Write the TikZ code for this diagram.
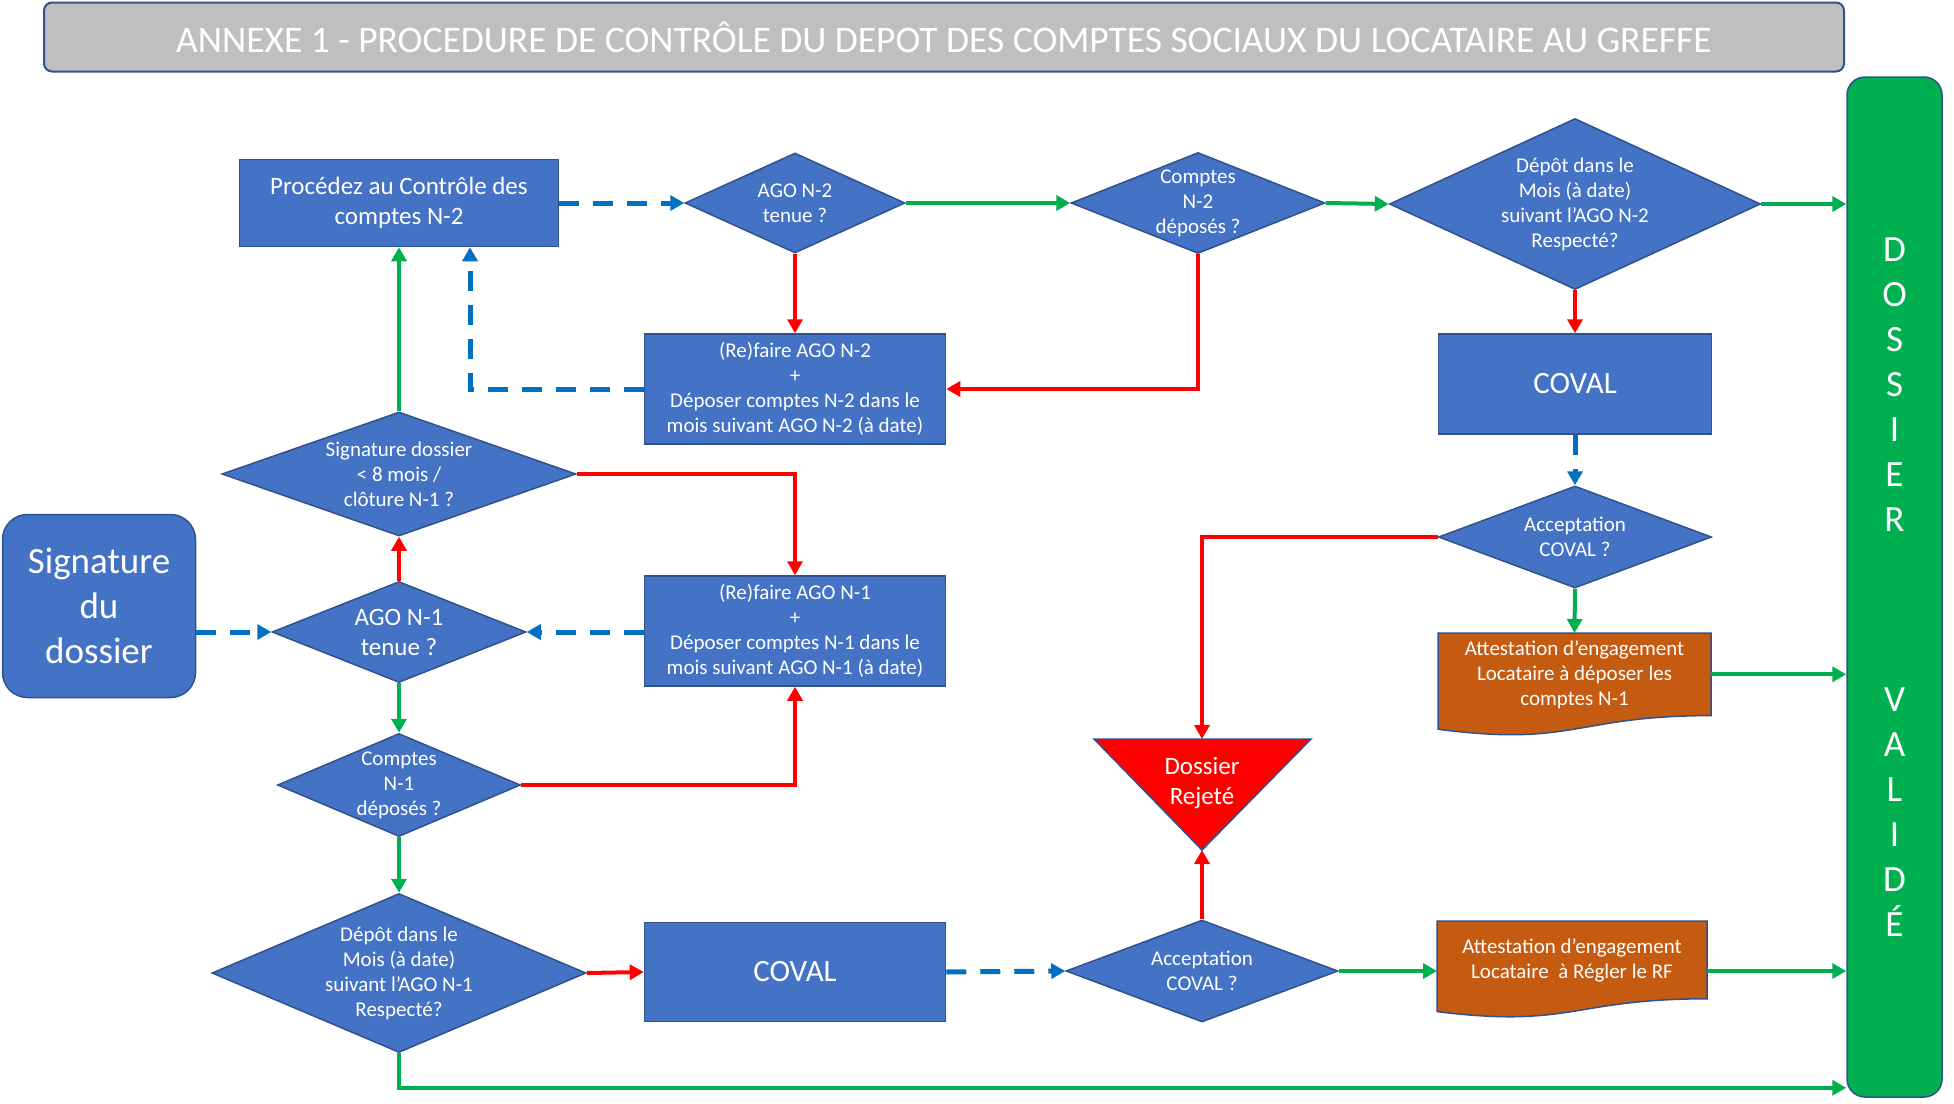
\documentclass[tikz,border=0pt]{standalone}
\usepackage{fontspec}
\setmainfont{Carlito}
\usetikzlibrary{calc,shapes.geometric,arrows,arrows.meta,backgrounds}

\definecolor{boxblue}{HTML}{4472C4}
\definecolor{edgeblue}{HTML}{2F528F}
\definecolor{okgreen}{HTML}{00B050}
\definecolor{kored}{HTML}{FF0000}
\definecolor{loopblue}{HTML}{0070C0}
\definecolor{docorange}{HTML}{C55A11}
\definecolor{bargray}{HTML}{BFBFBF}

\tikzset{
  process/.style={rectangle, draw=edgeblue, fill=boxblue, line width=1.5pt, text=white, align=center, inner sep=0pt},
  decision/.style={diamond, draw=edgeblue, fill=boxblue, line width=1.5pt, text=white, align=center, inner sep=-15pt, font=\fontsize{21}{25}\selectfont},
  smalltext/.style={font=\fontsize{21}{25}\selectfont},
  greenflow/.style={-{Triangle[length=14pt,width=15pt]}, okgreen, line width=4pt},
  redflow/.style={-{Triangle[length=14pt,width=15pt]}, kored, line width=4pt},
  blueflow/.style={-{Triangle[length=14pt,width=15pt]}, loopblue, line width=5pt, dash pattern=on 20pt off 14pt},
}

\begin{document}
\begin{tikzpicture}[x=1pt,y=-1pt]
\useasboundingbox (0,0) rectangle (1954,1103);
% en-tete
\node[rectangle, rounded corners=8pt, draw=edgeblue, fill=bargray, line width=2pt, minimum width=1800pt, minimum height=69pt, text=white, font=\fontsize{37.5}{44}\selectfont] (title) at (944,37) {ANNEXE 1 - PROCEDURE DE CONTRÔLE DU DEPOT DES COMPTES SOCIAUX DU LOCATAIRE AU GREFFE};
% barre dossier valide
\node[rectangle, rounded corners=18pt, draw=edgeblue, fill=okgreen, line width=1.5pt, minimum width=95pt, minimum height=1020pt, text=white, align=center, font=\fontsize{37}{45}\selectfont] (valide) at (1894.5,587) {D\\O\\S\\S\\I\\E\\R\\[135pt]V\\A\\L\\I\\D\\É};

% colonne N-1
\node[process, rounded corners=25pt, minimum width=193pt, minimum height=183pt, font=\fontsize{37}{45}\selectfont] (start) at (99,606) {Signature\\du\\dossier};
\node[process, minimum width=319pt, minimum height=87pt, font=\fontsize{25}{30}\selectfont] (proc) at (399,203) {Procédez au Contrôle des\\comptes N-2};
\node[decision, aspect=2.85, minimum width=354pt, minimum height=124pt] (sigd) at (399,474) {Signature dossier\\< 8 mois /\\clôture N-1 ?};
\node[decision, aspect=2.51, minimum width=254pt, minimum height=101pt, font=\fontsize{25}{30}\selectfont] (ago1) at (399,632) {AGO N-1\\tenue ?};
\node[decision, aspect=2.36, minimum width=243pt, minimum height=103pt] (cpt1) at (399,785) {Comptes\\N-1\\déposés ?};
\node[decision, aspect=2.35, minimum width=374pt, minimum height=159pt] (dep1) at (399,973) {Dépôt dans le\\Mois (à date)\\suivant l’AGO N-1\\Respecté?};

% colonne du milieu
\node[decision, aspect=2.2, minimum width=220pt, minimum height=100pt] (ago2) at (795,203) {AGO N-2\\tenue ?};
\node[process, smalltext, minimum width=301pt, minimum height=110pt] (refN2) at (795,389) {(Re)faire AGO N-2\\+\\Déposer comptes N-2 dans le\\mois suivant AGO N-2 (à date)};
\node[process, smalltext, minimum width=301pt, minimum height=110pt] (refN1) at (795,631) {(Re)faire AGO N-1\\+\\Déposer comptes N-1 dans le\\mois suivant AGO N-1 (à date)};
\node[process, minimum width=301pt, minimum height=99pt, font=\fontsize{31}{37}\selectfont] (coval1) at (795,972) {COVAL};

% colonne N-2 / rejet
\node[decision, aspect=2.51, minimum width=254pt, minimum height=101pt] (cpt2) at (1198,203) {Comptes\\N-2\\déposés ?};
\node[decision, aspect=2.67, minimum width=272pt, minimum height=102pt] (acc1) at (1202,971) {Acceptation\\COVAL ?};
\coordinate (rejtop) at (1202,739);
\coordinate (rejapex) at (1202,850);
\draw[fill=kored, draw=edgeblue, line width=1.5pt] ([xshift=-108pt]rejtop) -- ([xshift=109pt]rejtop) -- (rejapex) -- cycle;
\node[text=white, align=center, font=\fontsize{25}{30}\selectfont] (rej) at (1202,783) {Dossier\\Rejeté};

% colonne de droite
\node[decision, aspect=2.17, minimum width=371pt, minimum height=171pt] (dep2) at (1575,204) {Dépôt dans le\\Mois (à date)\\suivant l’AGO N-2\\Respecté?};
\node[process, minimum width=273pt, minimum height=100pt, font=\fontsize{31}{37}\selectfont] (coval2) at (1575,384) {COVAL};
\node[decision, aspect=2.68, minimum width=273pt, minimum height=102pt] (acc2) at (1575,537) {Acceptation\\COVAL ?};
\node[process, draw=none, fill=none, outer sep=0pt, smalltext, minimum width=273pt, minimum height=82.6pt] (att2) at (1574.5,674.3) {Attestation d’engagement\\Locataire à déposer les\\comptes N-1};
\node[process, draw=none, fill=none, outer sep=0pt, smalltext, minimum width=270pt, minimum height=77.8pt] (att1) at (1572,959.9) {Attestation d’engagement\\Locataire \ à Régler le RF};
\begin{scope}[on background layer]
\draw[fill=docorange, draw=edgeblue, line width=1.5pt] (att2.north west) -- (att2.north east) -- (att2.south east) .. controls (att2.south) and ([yshift=-31.5pt]att2.south) .. ([yshift=-13.6pt]att2.south west) -- cycle;
\draw[fill=docorange, draw=edgeblue, line width=1.5pt] (att1.north west) -- (att1.north east) -- (att1.south east) .. controls (att1.south) and ([yshift=-29.6pt]att1.south) .. ([yshift=-12.8pt]att1.south west) -- cycle;
\end{scope}

% liaisons
\draw[blueflow] (start.east |- ago1.west) -- (ago1.west);
\draw[blueflow] (refN1.west |- ago1.east) -- (ago1.east);
\draw[redflow] (ago1.north) -- (sigd.south);
\draw[greenflow] (ago1.south) -- (cpt1.north);
\draw[greenflow] (sigd.north) -- (proc.south);
\draw[redflow] (sigd.east) -| (refN1.north);
\draw[redflow] (cpt1.east) -| (refN1.south);
\draw[greenflow] (cpt1.south) -- (dep1.north);
\draw[redflow] (dep1.east) -- (coval1.west);
\draw[blueflow] (coval1.east) -- (acc1.west);
\draw[redflow] (acc1.north) -- (rejapex);
\draw[greenflow] (acc1.east) -- (acc1.east -| att1.west);
\draw[greenflow] (acc1.east -| att1.east) -- (acc1.east -| valide.west);
\draw[greenflow] (dep1.south) |- ([yshift=10pt]valide.south west);
\draw[blueflow] (proc.east) -- (ago2.west);
\draw[greenflow] (ago2.east) -- (cpt2.west);
\draw[redflow] (ago2.south) -- (refN2.north);
\draw[greenflow] (cpt2.east) -- (dep2.west);
\draw[redflow] (cpt2.south) |- (refN2.east);
\draw[blueflow] (refN2.west) -| ([xshift=71pt]proc.south);
\draw[greenflow] (dep2.east) -- (dep2.east -| valide.west);
\draw[redflow] (dep2.south) -- (coval2.north);
\draw[blueflow] (coval2.south) -- (acc2.north);
\draw[redflow] (acc2.west) -| (rejtop);
\draw[greenflow] (acc2.south) -- (att2.north);
\draw[greenflow] (att2.east) -- (att2.east -| valide.west);
\end{tikzpicture}
\end{document}
